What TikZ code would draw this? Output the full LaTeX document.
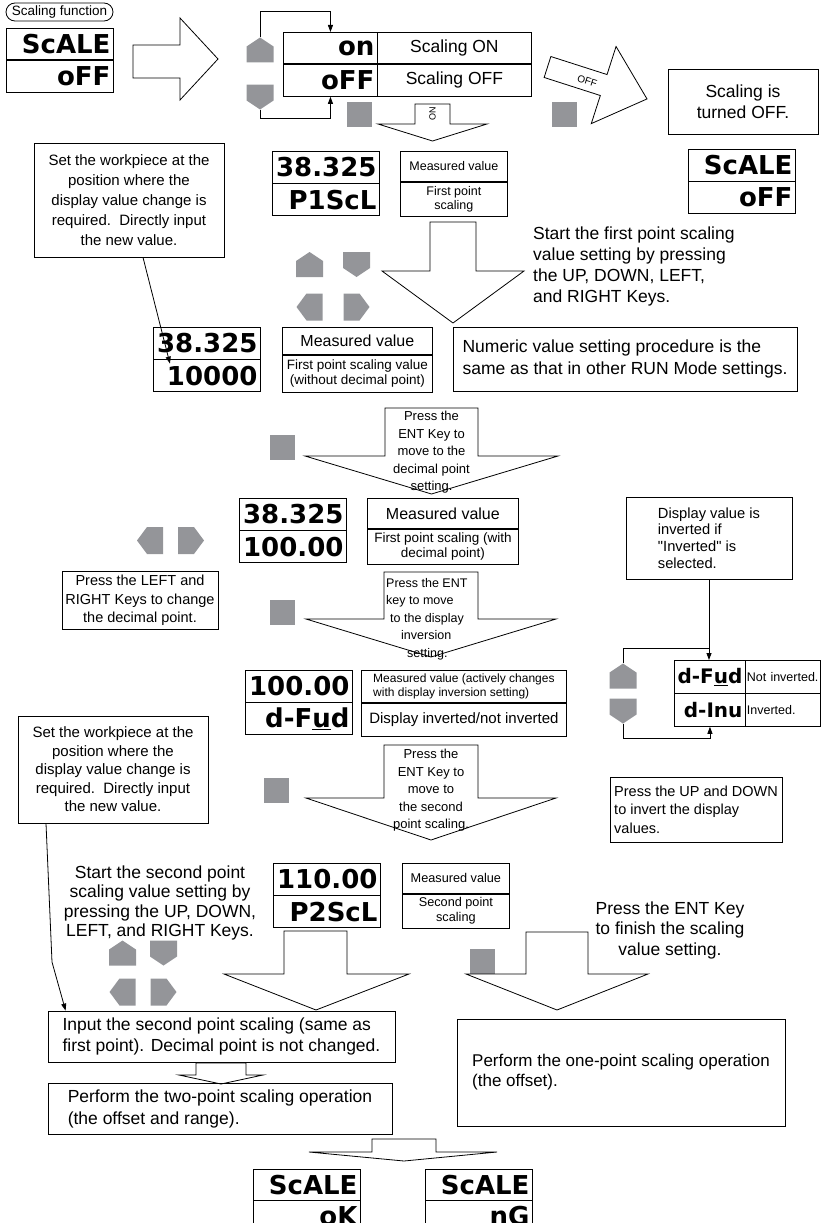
\documentclass[tikz,border=0pt]{standalone}
\usepackage{fontspec}
\setmainfont{Liberation Sans}[Ligatures=TeXOff]
\newfontfamily\segfont{DejaVu Sans}
\usetikzlibrary{arrows.meta,positioning}
\definecolor{keygray}{RGB}{148,149,153}
\newcommand{\fsz}[2]{\fontsize{#1}{#2}\selectfont}

\tikzset{
  box/.style={draw,line width=0.8pt,inner sep=0pt},
  cell/.style={draw,line width=0.8pt,inner sep=0pt,anchor=north west},
  pill/.style={draw,line width=0.8pt,rounded corners=9pt,minimum width=107pt,minimum height=18pt,inner sep=0pt,font=\fsz{13.5}{14}},
  lcd/.style={draw,line width=0.9pt,anchor=north west,text width=101pt,inner xsep=3pt,inner ysep=0pt,
    minimum height=31.5pt,align=right,font=\segfont\bfseries\fsz{26}{26}},
  blk/.style={draw,line width=0.8pt},
  arr/.style={-{Triangle[length=7pt,width=5pt]},line width=0.8pt},
  enttxt/.style={align=center,inner sep=0pt,anchor=north,font=\fsz{13}{17.5}},
  keybase/.style={minimum width=27pt,minimum height=25pt,inner sep=0pt},
  keyup/.style={keybase,path picture={\fill[keygray] (path picture bounding box.south west)
    -- ([yshift=-9pt]path picture bounding box.north west) -- (path picture bounding box.north)
    -- ([yshift=-9pt]path picture bounding box.north east) -- (path picture bounding box.south east) -- cycle;}},
  keydown/.style={keybase,path picture={\fill[keygray] (path picture bounding box.north west)
    -- (path picture bounding box.north east) -- ([yshift=9pt]path picture bounding box.south east)
    -- (path picture bounding box.south) -- ([yshift=9pt]path picture bounding box.south west) -- cycle;}},
  keyleft/.style={keybase,minimum width=26pt,minimum height=27pt,path picture={\fill[keygray] (path picture bounding box.north east)
    -- (path picture bounding box.south east) -- ([xshift=10pt]path picture bounding box.south west)
    -- (path picture bounding box.west) -- ([xshift=10pt]path picture bounding box.north west) -- cycle;}},
  keyright/.style={keybase,minimum width=26pt,minimum height=27pt,path picture={\fill[keygray] (path picture bounding box.north west)
    -- (path picture bounding box.south west) -- ([xshift=-10pt]path picture bounding box.south east)
    -- (path picture bounding box.east) -- ([xshift=-10pt]path picture bounding box.north east) -- cycle;}},
  entkey/.style={fill=keygray,minimum size=25pt,inner sep=0pt},
}

\begin{document}
\begin{tikzpicture}[x=1pt,y=-1pt]
\useasboundingbox (0,0) rectangle (823,1223);
\clip (0,0) rectangle (823,1223);

% scaling on / off
\node[pill] (sfun) at (59.5,12) {Scaling function};
\node[lcd] (d1t) at (6,28) {ScALE};
\node[lcd,below=0pt of d1t] (d1b) {oFF};
\draw[blk] (133,45) -- (180,45) -- (180,18) -- (218,59) -- (180,100) -- (180,78) -- (133,78) -- cycle;

\node[lcd,text width=88pt] (on) at (283,32) {on};
\node[lcd,text width=88pt,below=0pt of on] (off) {oFF};
\node[cell,minimum width=154pt,minimum height=31.5pt,font=\fsz{17.5}{20}] (onlab) at (377,32) {Scaling ON};
\node[cell,minimum width=154pt,minimum height=31.5pt,font=\fsz{17.5}{20},below=0pt of onlab] (offlab) {Scaling OFF};
\node[keyup] (k1u) at (260,50) {};
\node[keydown] (k1d) at (260,97) {};
\coordinate (l1) at (260,11);
\coordinate (l2) at (260,118);
\draw[arr] (k1u.north) -- (l1) -| (on.north);
\draw[arr] (k1d.south) -- (l2) -| (off.south);

\node[entkey] (e1) at (359.5,114.5) {};
\draw[blk] (415,104) -- (450,104) -- (450,124) -- (487,124) -- (432.5,141) -- (378,124) -- (415,124) -- cycle;
\node[rotate=90,font=\fsz{9}{9},inner sep=0pt] (onarr) at (432.5,114) {ON};

\begin{scope}[shift={(547.5,67)},rotate=-17.8]
\draw[blk] (0,-11) -- (59,-11) -- (59,-40.5) -- (104.5,0) -- (59,40.5) -- (59,11) -- (0,11) -- cycle;
\node[rotate=-17.8,font=\fsz{10}{10},inner sep=0pt] (offarr) at (42,1) {OFF};
\end{scope}
\node[entkey] (e2) at (564.5,114.5) {};
\node[box,minimum width=150pt,minimum height=65pt,align=center,font=\fsz{17.5}{21}] (soff) at (743,101.5) {Scaling is\\turned OFF.};
\node[lcd] (d2t) at (688,149) {ScALE};
\node[lcd,below=0pt of d2t] (d2b) {oFF};

% first point scaling
\node[box,minimum width=190pt,minimum height=114pt,align=center,font=\fsz{15}{20}] (wp1) at (129,200)
  {Set the workpiece at the\\position where the\\display value change is\\required.\ \ Directly input\\the new value.};
\node[lcd] (d3t) at (272,151) {38.325};
\node[lcd,below=0pt of d3t] (d3b) {P1ScL};
\node[cell,minimum width=107pt,minimum height=30pt,font=\fsz{12.5}{14}] (m1t) at (400,151) {Measured value};
\node[cell,minimum width=107pt,minimum height=34pt,align=center,font=\fsz{12.5}{14},below=0pt of m1t] (m1b) {First point\\scaling};

\draw[blk] (430,222) -- (476,222) -- (476,271) -- (524,271) -- (453,323) -- (382,271) -- (430,271) -- cycle;
\node[keyup] (k2u) at (309.5,264.5) {};
\node[keydown] (k2d) at (356.5,264.5) {};
\node[keyleft] (k2l) at (309.5,307) {};
\node[keyright] (k2r) at (356.5,307) {};
\node[anchor=north west,align=left,inner sep=0pt,font=\fsz{17.5}{21}] (st1) at (533,227)
  {Start the first point scaling\\value setting by pressing\\the UP, DOWN, LEFT,\\and RIGHT Keys.};

\node[lcd] (d4t) at (153,327) {38.325};
\node[lcd,below=0pt of d4t] (d4b) {10000};
\node[cell,minimum width=150pt,minimum height=27pt,font=\fsz{16}{18}] (m2t) at (282,327) {Measured value};
\node[cell,minimum width=150pt,minimum height=37pt,align=center,font=\fsz{13.5}{15},below=0pt of m2t] (m2b) {First point scaling value\\(without decimal point)};
\node[box,minimum width=344pt,minimum height=64pt,align=left,font=\fsz{17.5}{22}] (num) at (625,359)
  {Numeric value setting procedure is the\\same as that in other RUN Mode settings.};
\draw[arr] ([xshift=14pt]wp1.south) -- ([xshift=-37pt,yshift=12pt]d4b.center);

% decimal point
\node[entkey] (e3) at (282.5,447.5) {};
\draw[blk] (385,408) -- (478,408) -- (478,456) -- (558,456) -- (431.5,494) -- (305,456) -- (385,456) -- cycle;
\node[enttxt] (t1) at (431.5,411) {Press the\\ENT Key to\\move to the\\decimal point\\setting.};
\node[lcd] (d5t) at (239,498) {38.325};
\node[lcd,below=0pt of d5t] (d5b) {100.00};
\node[cell,minimum width=151pt,minimum height=30pt,font=\fsz{16}{18}] (m3t) at (367,498) {Measured value};
\node[cell,minimum width=151pt,minimum height=35pt,align=center,font=\fsz{13.5}{15},below=0pt of m3t] (m3b) {First point scaling (with\\decimal point)};
\node[keyleft] (k3l) at (150,540.5) {};
\node[keyright] (k3r) at (191,540.5) {};
\node[box,minimum width=156pt,minimum height=58pt,align=center,font=\fsz{14.5}{18.5}] (lr) at (140,600.5)
  {Press the LEFT and\\RIGHT Keys to change\\the decimal point.};

% display inversion
\node[entkey] (e4) at (282.5,612) {};
\draw[blk] (384,572) -- (478,572) -- (478,619) -- (556,619) -- (431,657) -- (306,619) -- (384,619) -- cycle;
\node[anchor=north west,align=left,inner sep=0pt,font=\fsz{12.5}{17.5}] (t2) at (386,578)
  {Press the ENT\\key to move\\\hspace*{4pt}to the display\\\hspace*{15pt}inversion\\\hspace*{21pt}setting.};
\node[lcd] (d6t) at (245,670) {100.00};
\node[lcd,below=0pt of d6t] (d6b) {d-F\underline{u}d};
\node[cell,minimum width=205pt,minimum height=32pt,align=left,font=\fsz{12}{14}] (m4t) at (361,670)
  {Measured value (actively changes\\with display inversion setting)};
\node[cell,minimum width=205pt,minimum height=33pt,align=left,font=\fsz{15}{17},below=0pt of m4t] (m4b) {Display inverted/not inverted};

\node[box,minimum width=166pt,minimum height=82pt,align=left,font=\fsz{14.7}{16.7}] (dvi) at (709,538)
  {Display value is\\inverted if\\"Inverted" is\\selected.};
\node[lcd,text width=65pt,minimum height=32.5pt,font=\segfont\bfseries\fsz{20}{20}] (fw) at (674,660) {d-F\underline{u}d};
\node[lcd,text width=65pt,minimum height=32.5pt,font=\segfont\bfseries\fsz{20}{20},below=0pt of fw] (iv) {d-Inu};
\node[cell,text width=72pt,inner xsep=1.5pt,minimum height=32.5pt,align=left,font=\fsz{12.5}{15}] (fwl) at (745,660) {Not inverted.};
\node[cell,text width=72pt,inner xsep=1.5pt,minimum height=32.5pt,align=left,font=\fsz{12.5}{15},below=0pt of fwl] (ivl) {Inverted.};
\node[keyup] (k4u) at (623,676) {};
\node[keydown] (k4d) at (623,711) {};
\coordinate (l3) at (623,648);
\coordinate (l4) at (623,738);
\draw[arr] (dvi.south) -- (dvi.south |- fw.north);
\draw[line width=0.8pt] (k4u.north) -- (l3) -- (l3 -| dvi.south);
\draw[arr] (k4d.south) -- (l4) -| (iv.south);
\node[box,minimum width=172pt,minimum height=65pt,align=left,font=\fsz{14.5}{18.5}] (updn) at (696,809.5)
  {Press the UP and DOWN\\to invert the display\\values.};

% second point scaling
\node[box,minimum width=190pt,minimum height=107pt,align=center,font=\fsz{15}{18.5}] (wp2) at (113,769.5)
  {Set the workpiece at the\\position where the\\display value change is\\required.\ \ Directly input\\the new value.};
\node[entkey] (e5) at (276,790) {};
\draw[blk] (384,745) -- (478,745) -- (478,798) -- (556,798) -- (431,840) -- (306,798) -- (384,798) -- cycle;
\node[enttxt] (t3) at (431,749) {Press the\\ENT Key to\\move to\\the second\\point scaling.};
\node[align=center,inner sep=0pt,font=\fsz{17.5}{19.5}] (st2) at (160,903)
  {Start the second point\\scaling value setting by\\pressing the UP, DOWN,\\LEFT, and RIGHT Keys.};
\node[lcd] (d7t) at (273,863) {110.00};
\node[lcd,below=0pt of d7t] (d7b) {P2ScL};
\node[cell,minimum width=107pt,minimum height=30pt,font=\fsz{12.7}{14}] (m5t) at (402,863) {Measured value};
\node[cell,minimum width=107pt,minimum height=34pt,align=center,font=\fsz{12.7}{15},below=0pt of m5t] (m5b) {Second point\\scaling};

\node[keyup] (k5u) at (122.5,953) {};
\node[keydown] (k5d) at (163.5,953) {};
\node[keyleft] (k5l) at (122.5,992) {};
\node[keyright] (k5r) at (163.5,992) {};
\draw[blk] (284,931) -- (347,931) -- (347,974) -- (409,974) -- (316,1010) -- (224,974) -- (284,974) -- cycle;
\node[entkey] (e6) at (482.5,961.5) {};
\draw[blk] (526,932) -- (588,932) -- (588,974) -- (648,974) -- (557,1010) -- (466,974) -- (526,974) -- cycle;
\node[align=center,inner sep=0pt,font=\fsz{17.5}{20.5}] (fin) at (670,930) {Press the ENT Key\\to finish the scaling\\value setting.};

% results
\node[box,minimum width=347pt,minimum height=51pt,align=left,font=\fsz{17.5}{21}] (inp) at (221.5,1036.5)
  {Input the second point scaling (same as\\first point). Decimal point is not changed.};
\coordinate (bend) at (52,962);
\draw[arr] ([xshift=-67pt]wp2.south) -- (bend) -- ([xshift=18pt]inp.north west);
\draw[blk] (196,1063) -- (246,1063) -- (246,1075) -- (263,1075) -- (221,1084) -- (179,1075) -- (196,1075) -- cycle;
\node[box,minimum width=344pt,minimum height=51pt,align=left,font=\fsz{17.5}{22}] (two) at (220,1108.5)
  {Perform the two-point scaling operation\\(the offset and range).};
\node[box,minimum width=328pt,minimum height=107pt,align=left,font=\fsz{17}{20}] (one) at (621,1072.5)
  {Perform the one-point scaling operation\\(the offset).};
\draw[blk] (372,1139) -- (436,1139) -- (436,1152) -- (497,1152) -- (404,1161) -- (309,1152) -- (372,1152) -- cycle;
\node[lcd,minimum height=30.5pt] (d8t) at (253,1169) {ScALE};
\node[lcd,minimum height=30.5pt,below=0pt of d8t] (d8b) {oK};
\node[lcd,minimum height=30.5pt] (d9t) at (425,1169) {ScALE};
\node[lcd,minimum height=30.5pt,below=0pt of d9t] (d9b) {nG};
\end{tikzpicture}
\end{document}
